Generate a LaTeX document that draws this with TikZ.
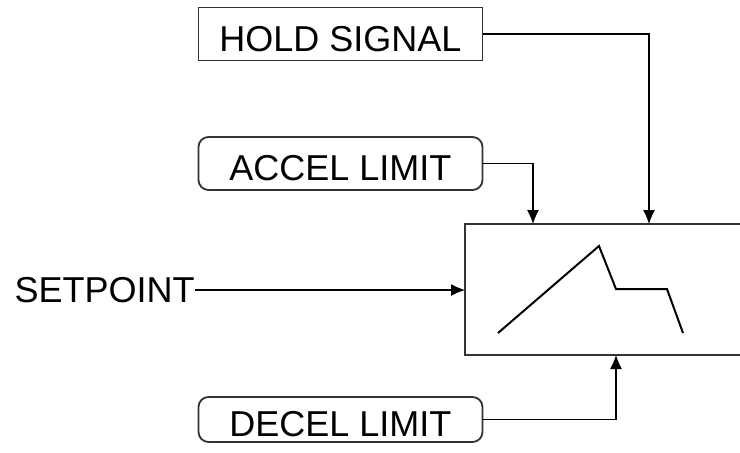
\documentclass[tikz,border=0pt]{standalone}
\usepackage{fontspec}
\setmainfont{Liberation Sans}
\usetikzlibrary{arrows.meta}

\begin{document}
\begin{tikzpicture}[x=0.5pt,y=-0.5pt,
    limitbox/.style={draw=black!80, line width=0.9pt, rounded corners=5pt, outer sep=0pt,
      minimum width=142pt, minimum height=26.5pt, text height=17pt, text depth=0pt,
      inner sep=0pt, font=\fontsize{18}{20}\selectfont},
    feed/.style={-{Latex[length=7pt,width=6pt]}, line width=0.55pt}]
    \useasboundingbox (0,0) rectangle (740,452);
    % input boxes
    \node[limitbox, rounded corners=0pt] (hold) at (340.5,34) {HOLD SIGNAL};
    \node[limitbox] (accel) at (340.5,163.5) {ACCEL LIMIT};
    \node[limitbox, minimum height=22.5pt] (decel) at (340.5,419.5) {DECEL LIMIT};
    \node[anchor=east, inner sep=0pt, font=\fontsize{18}{20}\selectfont] (setpoint) at (195,290) {SETPOINT};
    % ramp block
    \node[draw=black!80, line width=0.9pt, outer sep=0pt, minimum width=140pt,
      minimum height=65.5pt] (ramp) at (605,289.5) {};
    \coordinate (accelin) at (533,224);
    \coordinate (holdin) at (649,224);
    \coordinate (decelin) at (616,355);
    \draw[line width=1pt] (498,333) -- (599,246) -- (616,289) -- (667,289) -- (683,333);
    % connectors
    \draw[feed] (setpoint.east) -- (ramp.west |- setpoint.east);
    \draw[feed] (hold.east) -| (holdin);
    \draw[feed] (accel.east) -| (accelin);
    \draw[feed] (decel.east) -| (decelin);
\end{tikzpicture}
\end{document}
